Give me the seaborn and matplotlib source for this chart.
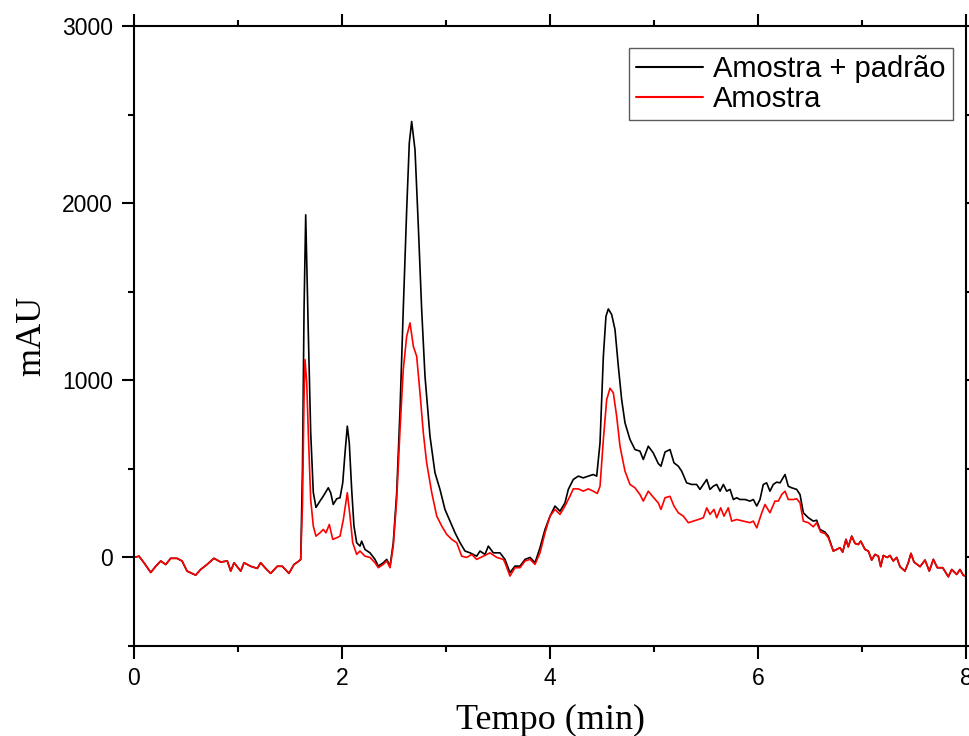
import numpy as np
import pandas as pd
import matplotlib
matplotlib.use("Agg")
import matplotlib.pyplot as plt
import seaborn as sns
from matplotlib.ticker import MultipleLocator

# ---- data (minutes, mAU) ----
# shared baseline (both traces coincide)
t_base = [0.000, 0.048, 0.096, 0.161, 0.209, 0.257, 0.305, 0.353, 0.413, 0.462,
          0.510, 0.593, 0.641, 0.702, 0.769, 0.834, 0.897, 0.930, 0.962, 1.026,
          1.058, 1.122, 1.186, 1.218, 1.266, 1.314, 1.378, 1.426, 1.490, 1.538,
          1.587, 1.603]
y_base = [0, 7, -30, -85, -50, -20, -40, -5, -5, -20,
          -77, -100, -68, -40, -5, -26, -20, -77, -30, -77,
          -30, -50, -62, -30, -62, -90, -50, -50, -90, -40,
          -20, -11]

# Amostra (red), central part
t_amostra = [1.620, 1.635, 1.644, 1.661, 1.676, 1.699, 1.724, 1.750, 1.788, 1.820,
             1.846, 1.878, 1.911, 1.949, 1.981, 2.013, 2.051, 2.077, 2.103, 2.141,
             2.173, 2.221, 2.269, 2.317, 2.349, 2.397, 2.430, 2.462, 2.493, 2.526,
             2.558, 2.589, 2.622, 2.654, 2.686, 2.718, 2.750, 2.782, 2.814, 2.863,
             2.911, 2.959, 3.007, 3.055, 3.103, 3.151, 3.199, 3.247, 3.295, 3.359,
             3.423, 3.488, 3.551, 3.567, 3.615, 3.663, 3.712, 3.760, 3.808, 3.856,
             3.904, 3.952, 4.000, 4.048, 4.096, 4.144, 4.192, 4.224, 4.272, 4.320,
             4.368, 4.416, 4.455, 4.481, 4.513, 4.545, 4.577, 4.609, 4.641, 4.673,
             4.721, 4.769, 4.817, 4.865, 4.897, 4.945, 4.993, 5.041, 5.067, 5.106,
             5.154, 5.192, 5.234, 5.282, 5.330, 5.378, 5.426, 5.474, 5.507, 5.538,
             5.577, 5.603, 5.641, 5.673, 5.714, 5.747, 5.795, 5.859, 5.923, 5.955,
             5.988, 6.036, 6.067, 6.115, 6.163, 6.195, 6.228, 6.260, 6.291, 6.340,
             6.372, 6.404, 6.436, 6.484, 6.532, 6.564, 6.603, 6.644, 6.676]
y_amostra = [300, 900, 1117, 985, 703, 327, 177, 120, 139, 158,
             139, 186, 102, 111, 120, 214, 365, 233, 83, 17,
             36, 7, 0, -30, -58, -39, -20, -58, 64, 327,
             722, 1060, 1248, 1324, 1192, 1135, 929, 703, 534, 365,
             233, 177, 130, 102, 83, 7, 0, 17, -11, 7,
             26, 0, -11, -30, -105, -58, -58, -20, -11, -39,
             26, 139, 233, 271, 243, 290, 346, 387, 387, 374,
             387, 374, 361, 402, 666, 891, 955, 929, 797, 628,
             487, 412, 393, 355, 318, 374, 340, 308, 271, 337,
             345, 290, 252, 233, 196, 205, 214, 224, 280, 243,
             271, 224, 280, 233, 280, 205, 214, 205, 196, 205,
             167, 252, 299, 252, 318, 318, 355, 374, 327, 327,
             331, 308, 205, 196, 173, 196, 143, 135, 111]

# Amostra + padrão (black), central part
t_padrao = [1.620, 1.635, 1.651, 1.676, 1.699, 1.724, 1.750, 1.788, 1.820, 1.868,
            1.891, 1.916, 1.949, 1.981, 2.007, 2.029, 2.051, 2.070, 2.093, 2.115,
            2.141, 2.173, 2.189, 2.221, 2.269, 2.317, 2.349, 2.397, 2.430, 2.462,
            2.493, 2.526, 2.558, 2.589, 2.622, 2.647, 2.670, 2.702, 2.734, 2.766,
            2.798, 2.846, 2.894, 2.942, 2.990, 3.038, 3.087, 3.135, 3.183, 3.231,
            3.295, 3.327, 3.375, 3.407, 3.455, 3.519, 3.567, 3.615, 3.663, 3.712,
            3.760, 3.808, 3.856, 3.904, 3.952, 4.000, 4.048, 4.096, 4.144, 4.176,
            4.224, 4.272, 4.320, 4.368, 4.416, 4.449, 4.481, 4.513, 4.538, 4.561,
            4.593, 4.625, 4.657, 4.689, 4.721, 4.769, 4.817, 4.865, 4.897, 4.945,
            4.993, 5.041, 5.067, 5.106, 5.154, 5.192, 5.234, 5.266, 5.314, 5.362,
            5.410, 5.442, 5.474, 5.507, 5.538, 5.570, 5.603, 5.635, 5.667, 5.699,
            5.731, 5.763, 5.795, 5.827, 5.875, 5.923, 5.955, 5.988, 6.019, 6.051,
            6.083, 6.115, 6.147, 6.180, 6.212, 6.260, 6.291, 6.324, 6.372, 6.404,
            6.436, 6.484, 6.532, 6.564, 6.596, 6.644, 6.676]
y_padrao = [500, 1400, 1934, 1269, 705, 367, 282, 318, 346, 393,
            365, 299, 331, 337, 421, 590, 741, 647, 384, 177,
            83, 64, 92, 45, 26, -11, -49, -30, -11, -49,
            83, 365, 835, 1399, 1963, 2339, 2461, 2301, 1869, 1399,
            1023, 684, 478, 384, 271, 205, 139, 83, 36, 26,
            7, 36, 17, 64, 26, 26, -11, -86, -49, -49,
            -11, 0, -30, 55, 158, 233, 290, 261, 308, 384,
            440, 459, 449, 459, 468, 459, 647, 1135, 1361, 1403,
            1371, 1286, 1079, 891, 760, 666, 609, 600, 553, 628,
            590, 530, 515, 595, 609, 534, 515, 487, 421, 412,
            412, 384, 412, 440, 384, 402, 412, 374, 412, 374,
            384, 327, 337, 327, 327, 318, 327, 290, 327, 412,
            421, 374, 412, 425, 421, 468, 402, 393, 384, 355,
            252, 224, 205, 210, 158, 143, 120]

# shared tail (both traces coincide)
t_tail = [6.724, 6.757, 6.788, 6.814, 6.846, 6.868, 6.901, 6.933, 6.965, 6.988,
          7.029, 7.061, 7.093, 7.125, 7.157, 7.180, 7.205, 7.243, 7.269, 7.301,
          7.334, 7.365, 7.413, 7.445, 7.471, 7.500, 7.558, 7.606, 7.647, 7.686,
          7.724, 7.776, 7.830, 7.863, 7.911, 7.942, 7.974, 8.000]
y_tail = [36, 45, 55, 30, 102, 60, 120, 79, 73, 92,
          45, 36, -15, 17, 7, -52, 11, 0, 11, -20,
          0, -52, -77, -30, 23, -26, -52, -15, -77, -11,
          -58, -58, -109, -68, -96, -68, -101, -105]

series_names = ["Amostra + padrão", "Amostra"]
series_colors = ["#000000", "#ff0000"]

df = pd.concat([
    pd.DataFrame({"Tempo": t_base + t_padrao + t_tail,
                  "mAU": y_base + y_padrao + y_tail,
                  "Série": series_names[0]}),
    pd.DataFrame({"Tempo": t_base + t_amostra + t_tail,
                  "mAU": y_base + y_amostra + y_tail,
                  "Série": series_names[1]}),
], ignore_index=True)

sns.set_style("ticks")
plt.rcParams["font.family"] = ["Liberation Sans", "DejaVu Sans"]
plt.rcParams["text.color"] = "black"
plt.rcParams["axes.labelcolor"] = "black"
plt.rcParams["xtick.color"] = "black"
plt.rcParams["ytick.color"] = "black"

fig = plt.figure(figsize=(9.69, 7.36), dpi=100)
ax = fig.add_axes([134 / 969, 1 - 646 / 736, (966 - 134) / 969, (646 - 26) / 736])

sns.lineplot(data=df, x="Tempo", y="mAU", hue="Série", hue_order=series_names,
             palette=dict(zip(series_names, series_colors)),
             estimator=None, sort=False, linewidth=1.2, ax=ax)

ax.set_xlim(0, 8)
ax.set_ylim(-500, 3000)
ax.xaxis.set_major_locator(MultipleLocator(2))
ax.xaxis.set_minor_locator(MultipleLocator(1))
ax.yaxis.set_major_locator(MultipleLocator(1000))
ax.yaxis.set_minor_locator(MultipleLocator(500))
ax.tick_params(which="both", direction="out", top=True, right=True,
               labeltop=False, labelright=False, width=1.5, colors="black",
               labelsize=16.5, pad=6)
ax.tick_params(which="major", length=9)
ax.tick_params(which="minor", length=4.5)
for s in ax.spines.values():
    s.set_linewidth(1.5)
    s.set_color("black")

ax.set_xlabel("Tempo (min)", fontfamily="Liberation Serif", fontsize=26,
              labelpad=10, color="black")
ax.set_ylabel("mAU", fontfamily="Liberation Serif", fontsize=26,
              labelpad=10, color="black")

leg = ax.legend(loc="upper right", bbox_to_anchor=(953 / 969, 1 - 48 / 736),
                bbox_transform=fig.transFigure, borderaxespad=0,
                fontsize=21, handlelength=2.3, handletextpad=0.35,
                labelspacing=0.05, borderpad=0.25, frameon=True, fancybox=False,
                title=None)
leg.get_frame().set_edgecolor("#333333")
leg.get_frame().set_linewidth(1.0)
for txt in leg.get_texts():
    txt.set_color("black")
for line in leg.get_lines():
    line.set_linewidth(1.5)

fig.savefig("out.png", dpi=100, facecolor="white")
